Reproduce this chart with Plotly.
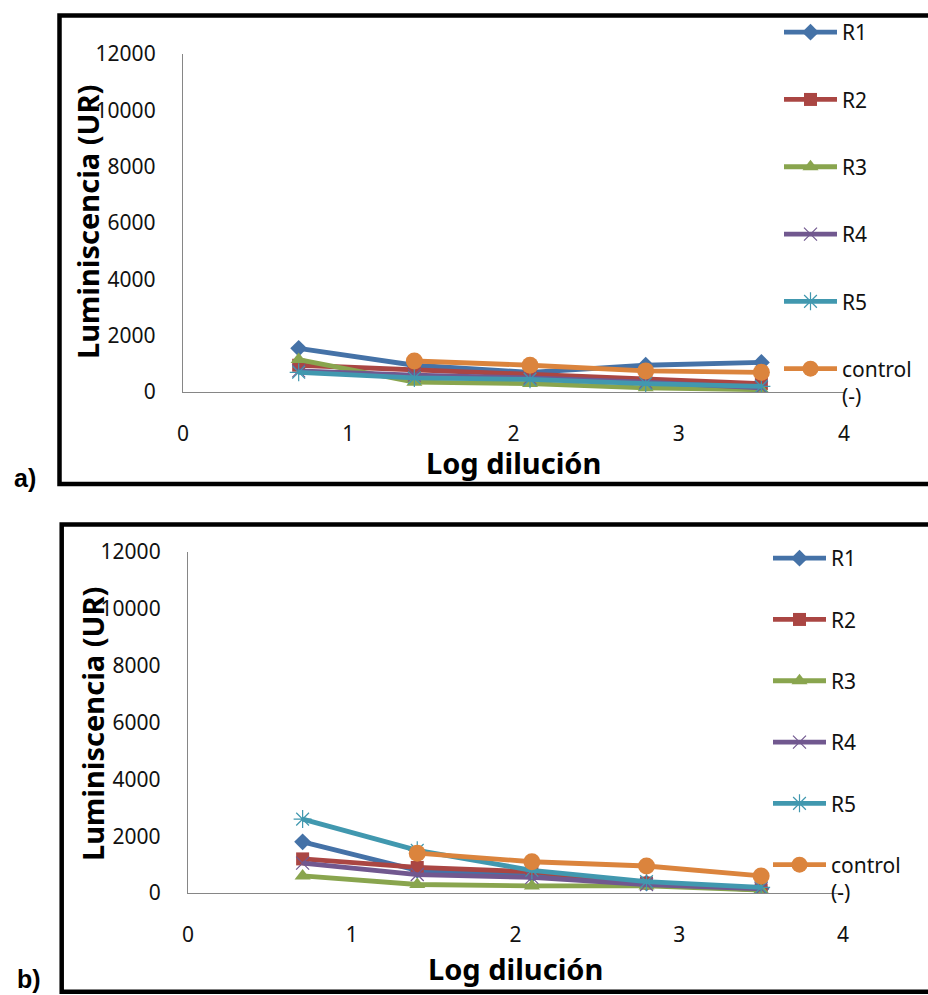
import plotly.graph_objects as go

# Log dilution steps shared by both panels
log_dil = [0.7, 1.4, 2.1, 2.8, 3.5]

# Panel a) luminescence (UR)
a_R1 = [1550, 950, 700, 950, 1050]
a_R2 = [950, 780, 600, 450, 300]
a_R3 = [1150, 350, 300, 150, 80]
a_R4 = [750, 600, 500, 350, 150]
a_R5 = [700, 500, 450, 300, 200]
a_ctrl = [None, 1100, 950, 750, 700]

# Panel b) luminescence (UR)
b_R1 = [1800, 800, 650, 350, 150]
b_R2 = [1200, 900, 750, 350, 100]
b_R3 = [600, 300, 250, 250, 100]
b_R4 = [1050, 650, 550, 300, 150]
b_R5 = [2600, 1500, 800, 400, 200]
b_ctrl = [None, 1400, 1100, 950, 600]

series_names = ["R1", "R2", "R3", "R4", "R5", "control<br>(-)"]
colors = ["#4572A7", "#AA4643", "#89A54E", "#71588F", "#4198AF", "#DB843D"]
symbols = ["diamond", "square", "triangle-up", "x-thin-open", "asterisk-open", "circle"]
sizes = [13, 13, 14, 13, 15, 17]

y_ticks = [0, 2000, 4000, 6000, 8000, 10000, 12000]
y_ticktext = [str(v) for v in y_ticks]
x_ticks = [0, 1, 2, 3, 4]
x_ticktext = [str(v) for v in x_ticks]

W, H = 928, 995
FONT = "Noto Sans"
AXIS_GRAY = "#868686"

fig = go.Figure()

panels = [
    ([a_R1, a_R2, a_R3, a_R4, a_R5, a_ctrl], "x", "y", "legend", "a"),
    ([b_R1, b_R2, b_R3, b_R4, b_R5, b_ctrl], "x2", "y2", "legend2", "b"),
]
for data, xa, ya, leg, tag in panels:
    for i, vals in enumerate(data):
        fig.add_trace(go.Scatter(
            x=log_dil, y=vals, name=series_names[i],
            xaxis=xa, yaxis=ya, legend=leg, legendgroup=f"{tag}{i}",
            mode="lines+markers",
            line=dict(color=colors[i], width=4.8),
            marker=dict(symbol=symbols[i], size=sizes[i], color=colors[i],
                        line=dict(color=colors[i], width=1.2 if i in (3, 4) else 0)),
        ))


def px_x(p):
    return p / W


def px_y(p):
    return 1 - p / H


tick_font = dict(family=FONT, size=21, color="#111")


def xaxis_cfg(x0, x1):
    return dict(domain=[px_x(x0), px_x(x1)], range=[0, 4],
                tickmode="array", tickvals=x_ticks, ticktext=x_ticktext,
                showline=True, linecolor=AXIS_GRAY, linewidth=1.3, showgrid=False,
                zeroline=False, ticks="", ticklabelstandoff=23,
                tickfont=tick_font, fixedrange=True)


def yaxis_cfg(y0, y1):
    return dict(domain=[px_y(y0), px_y(y1)], range=[0, 12000],
                tickmode="array", tickvals=y_ticks, ticktext=y_ticktext,
                showline=True, linecolor=AXIS_GRAY, linewidth=1.3, showgrid=False,
                zeroline=False, ticks="", ticklabelstandoff=22,
                tickfont=tick_font, fixedrange=True)


legend_common = dict(xanchor="left", yanchor="top", font=dict(family=FONT, size=21, color="#111"),
                     bgcolor="rgba(0,0,0,0)", valign="top", itemwidth=53)

fig.update_layout(
    width=W, height=H, margin=dict(l=0, r=0, t=0, b=0, autoexpand=False),
    paper_bgcolor="white", plot_bgcolor="white",
    xaxis=xaxis_cfg(183, 844) | dict(anchor="y"),
    yaxis=yaxis_cfg(392, 54) | dict(anchor="x"),
    xaxis2=xaxis_cfg(188, 843) | dict(anchor="y2"),
    yaxis2=yaxis_cfg(893, 552) | dict(anchor="x2"),
    legend=legend_common | dict(x=px_x(779), y=px_y(12), tracegroupgap=37),
    legend2=legend_common | dict(x=px_x(768), y=px_y(538), tracegroupgap=31),
    showlegend=True,
)

# Panel frames (right edge runs past the page)
frames = [(59.5, 15.5, 484), (61.7, 524.5, 991.7)]
for left, top, bottom in frames:
    fig.add_shape(type="rect", xref="paper", yref="paper",
                  x0=px_x(left), x1=1.02, y0=px_y(bottom), y1=px_y(top),
                  line=dict(color="black", width=4.5), fillcolor="rgba(0,0,0,0)", layer="below")

# Axis titles and panel labels
title_font = dict(family=FONT, size=29, color="black")
for cx, cy in [(87, 222), (92, 724)]:
    fig.add_annotation(text="<b>Luminiscencia (UR)</b>", textangle=-90, x=px_x(cx), y=px_y(cy),
                       xref="paper", yref="paper", xanchor="center", yanchor="middle",
                       showarrow=False, font=title_font)
for cx, cy in [(513, 462), (515, 968)]:
    fig.add_annotation(text="<b>Log dilución</b>", x=px_x(cx), y=px_y(cy),
                       xref="paper", yref="paper", xanchor="center", yanchor="middle",
                       showarrow=False, font=title_font)
for lab, cx, cy in [("a)", 24.5, 478), ("b)", 29, 979)]:
    fig.add_annotation(text=f"<b>{lab}</b>", x=px_x(cx), y=px_y(cy), xref="paper", yref="paper",
                       xanchor="center", yanchor="middle", showarrow=False,
                       font=dict(family="Liberation Sans", size=25, color="black"))

fig.write_html("out.html")
